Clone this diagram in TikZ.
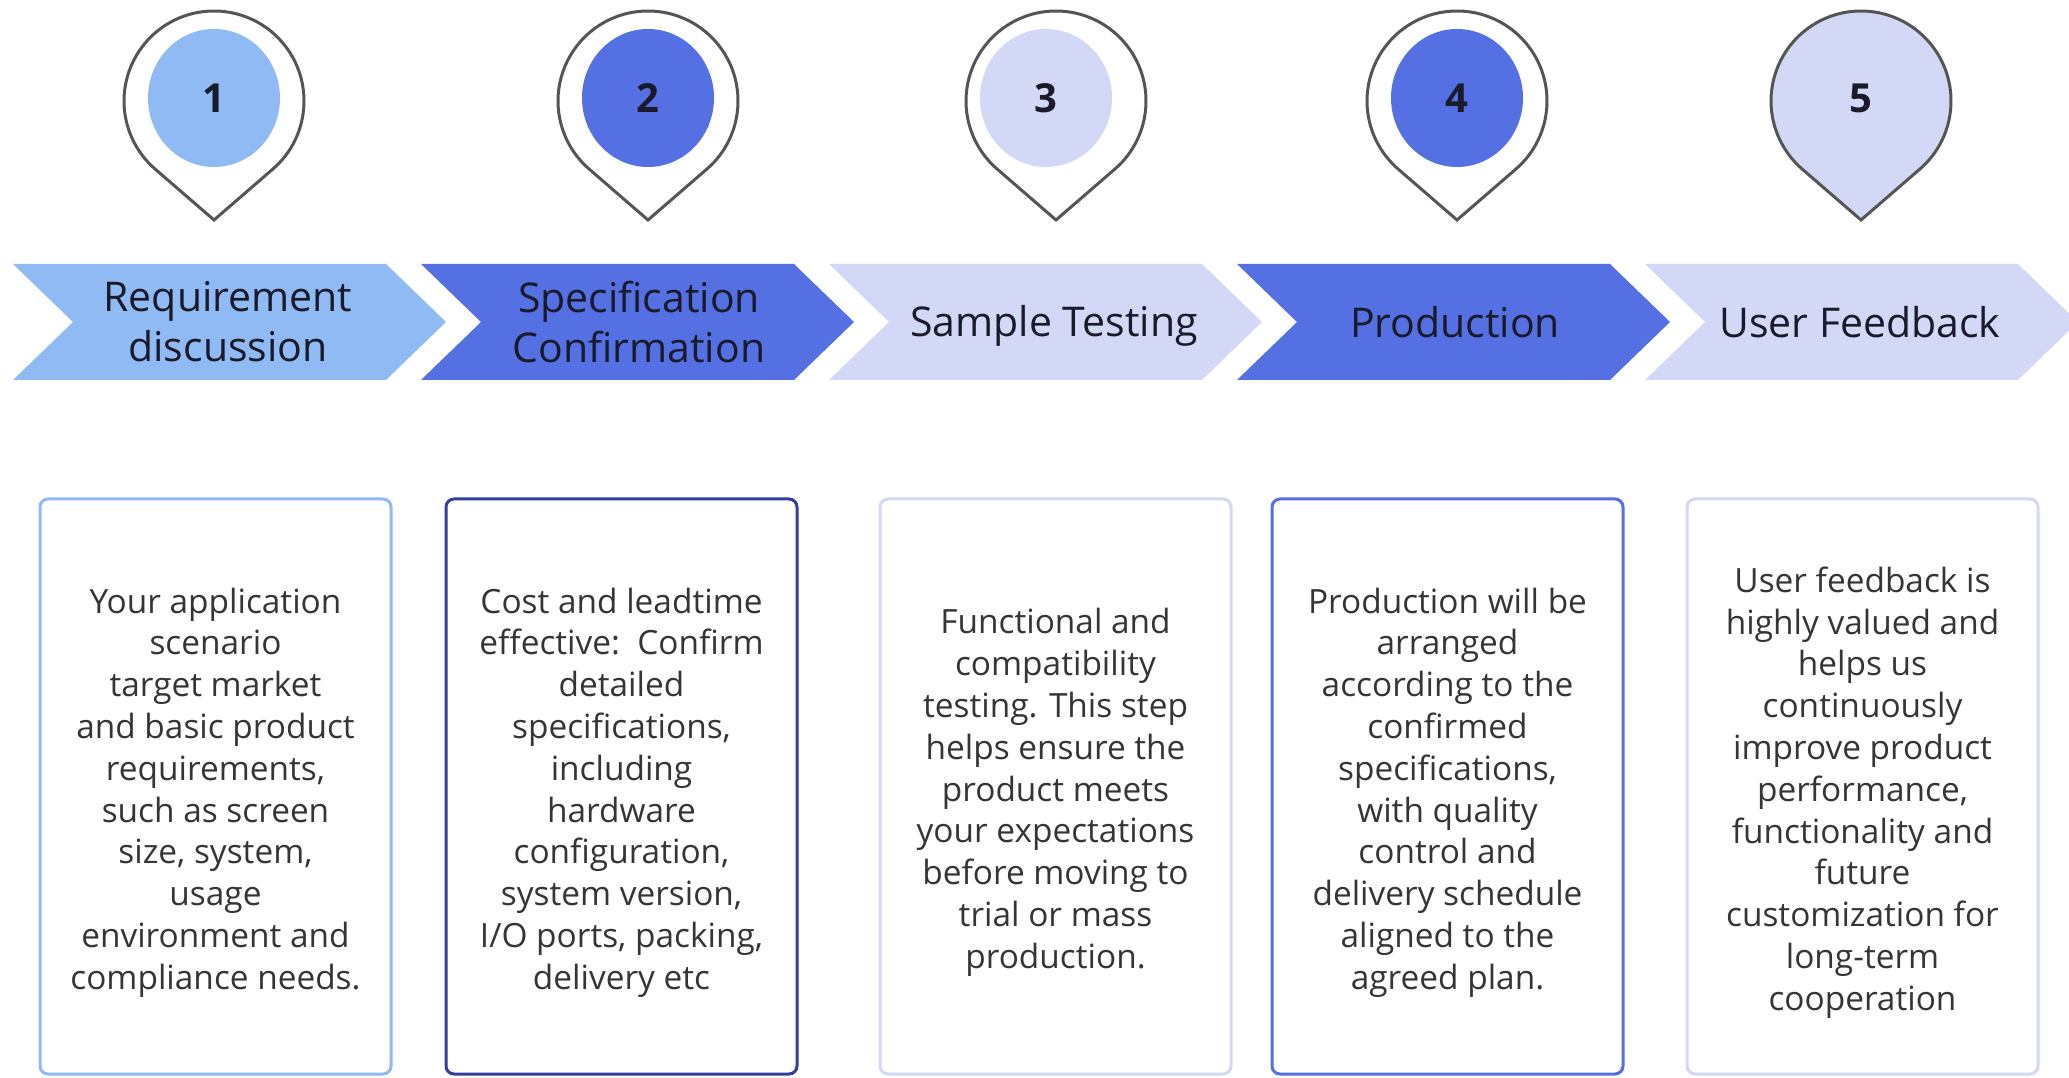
\documentclass[tikz,border=0pt]{standalone}
\usepackage{fontspec}
\usetikzlibrary{calc}
\setmainfont{Open Sans}
\definecolor{lb}{HTML}{8FBAF3}
\definecolor{rb}{HTML}{5470E3}
\definecolor{lv}{HTML}{D3D8F6}
\definecolor{nv}{HTML}{2F3F9C}
\definecolor{pinline}{HTML}{555555}
\definecolor{txt}{HTML}{353535}
\definecolor{ctxt}{HTML}{1A1A2A}
\begin{document}
\begin{tikzpicture}[x=1pt,y=1pt,
  pinshape/.style={draw=pinline,line width=3pt},
  boxst/.style={rounded corners=8pt,line width=3pt,fill=white,minimum width=351pt,minimum height=575pt,inner sep=0pt},
  num/.style={font=\fontsize{40}{48}\selectfont\bfseries,text=ctxt},
  chevlabel/.style={font=\fontsize{41}{50}\selectfont,align=center,text=ctxt},
  desc/.style={font=\fontsize{33.4}{41.8}\selectfont,align=center,text=txt}]
\useasboundingbox (0,0) rectangle (2069,1077);

% pins
\foreach \cx/\fc/\ix/\ic [count=\i] in {214/white/214/lb, 648/white/648/rb, 1056/white/1046/lv, 1457/white/1457/rb, 1861/lv/1861/lv}{
  \draw[pinshape,fill=\fc] (\cx,857) -- ($(\cx,976)+(-49.1:90)$) arc[start angle=-49.1,end angle=229.1,radius=90] -- cycle;
  \fill[\ic] (\ix,979) ellipse[x radius=66,y radius=69];
}
\node[num] (n1) at (214,979) {1};
\node[num] (n2) at (648,979) {2};
\node[num] (n3) at (1046,979) {3};
\node[num] (n4) at (1457,979) {4};
\node[num] (n5) at (1861,979) {5};

% chevrons
\foreach \L/\c in {13/lb, 421/rb, 829/lv, 1237/rb, 1645/lv}{
  \fill[\c] (\L,813) -- (\L+373,813) -- (\L+433,755) -- (\L+373,697) -- (\L,697) -- (\L+60,755) -- cycle;
}
\node[chevlabel] (c1) at (228,755) {Requirement\\discussion};
\node[chevlabel] (c2) at (639,755) {Specification\\Confirmation};
\node[chevlabel] (c3) at (1054,751) {Sample Testing};
\node[chevlabel] (c4) at (1455,755) {Production};
\node[chevlabel] (c5) at (1860,755) {User Feedback};

% boxes
\node[boxst,draw=lb] (b1) at (215.5,290.5) {};
\node[boxst,draw=nv] (b2) at (621.5,290.5) {};
\node[boxst,draw=lv] (b3) at (1055.5,290.5) {};
\node[boxst,draw=rb] (b4) at (1447.5,290.5) {};
\node[boxst,draw=lv] (b5) at (1862.5,290.5) {};

\node[desc] (t1) at ([yshift=-6pt]b1.center) {Your application\\scenario\\target market\\and basic product\\requirements,\\such as screen\\size, system,\\usage\\environment and\\compliance needs.};
\node[desc] (t2) at ([yshift=-6pt]b2.center) {Cost and leadtime\\effective:\ \ Confirm\\detailed\\specifications,\\including\\hardware\\configuration,\\system version,\\I/O ports, packing,\\delivery etc};
\node[desc] (t3) at ([yshift=-6pt]b3.center) {Functional and\\compatibility\\testing. This step\\helps ensure the\\product meets\\your expectations\\before moving to\\trial or mass\\production.};
\node[desc] (t4) at ([yshift=-6pt]b4.center) {Production will be\\arranged\\according to the\\confirmed\\specifications,\\with quality\\control and\\delivery schedule\\aligned to the\\agreed plan.};
\node[desc] (t5) at ([yshift=-6pt]b5.center) {User feedback is\\highly valued and\\helps us\\continuously\\improve product\\performance,\\functionality and\\future\\customization for\\long-term\\cooperation};
\end{tikzpicture}
\end{document}
